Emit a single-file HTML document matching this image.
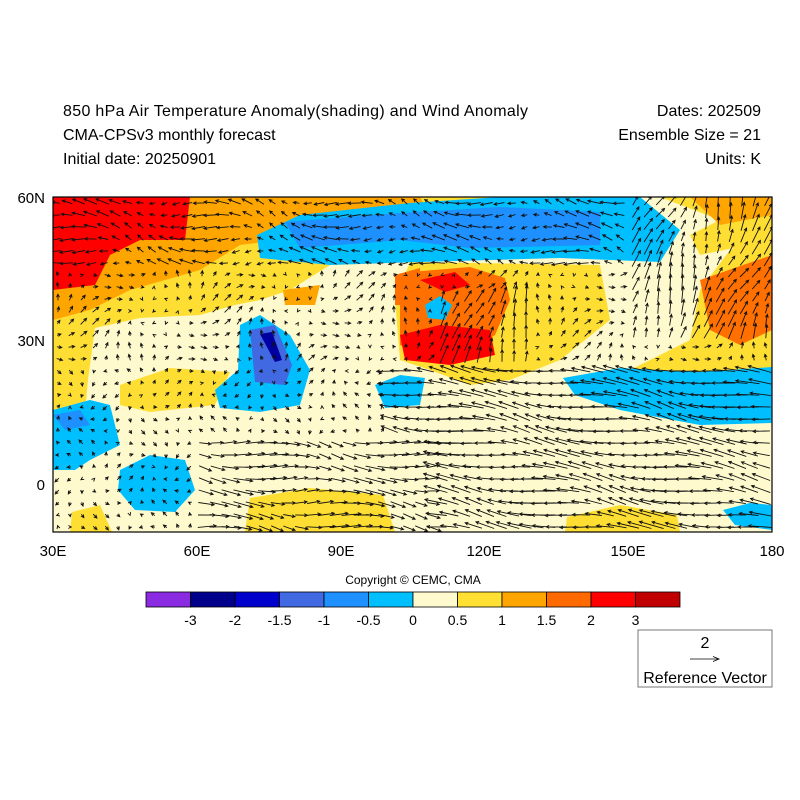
<!DOCTYPE html>
<html><head><meta charset="utf-8"><style>
body{margin:0;background:#fff;}
svg{display:block;font-family:"Liberation Sans",Arial,sans-serif;}
</style></head><body>
<svg id="s" width="800" height="800" viewBox="0 0 800 800" xmlns="http://www.w3.org/2000/svg">
<rect width="800" height="800" fill="#fff"/>
<text x="63" y="116" font-size="16" textLength="465">850 hPa Air Temperature Anomaly(shading) and Wind Anomaly</text>
<text x="63" y="140" font-size="16">CMA-CPSv3 monthly forecast</text>
<text x="63" y="164" font-size="16">Initial date: 20250901</text>
<text x="761" y="116" font-size="16" text-anchor="end">Dates: 202509</text>
<text x="761" y="140" font-size="16" text-anchor="end">Ensemble Size = 21</text>
<text x="761" y="164" font-size="16" text-anchor="end">Units: K</text>
<defs><clipPath id="c"><rect x="53" y="197" width="719" height="335"/></clipPath></defs>
<g clip-path="url(#c)">
<rect x="53" y="197" width="719" height="335" fill="#FFFACD"/>
<!-- yellow regions -->
<path d="M53 197 L560 197 L520 240 L420 262 L330 265 L290 290 L260 300 L235 305 L200 315 L140 318 L95 328 L88 380 L82 445 L53 450 Z" fill="#FFDE33"/>
<path d="M410 262 L600 265 L610 320 L560 360 L510 380 L470 385 L430 370 L400 360 L395 300 Z" fill="#FFDE33"/>
<path d="M120 385 L170 368 L230 372 L215 405 L150 412 L120 405 Z" fill="#FFDE33"/>
<path d="M250 498 L310 488 L383 495 L395 532 L245 532 Z" fill="#FFDE33"/>
<path d="M567 517 L620 505 L677 515 L680 532 L565 532 Z" fill="#FFDE33"/>
<path d="M72 512 L100 505 L112 532 L70 532 Z" fill="#FFDE33"/>
<path d="M630 370 L690 340 L700 290 L730 250 L772 230 L772 380 L700 375 Z" fill="#FFDE33"/>
<path d="M660 197 L772 197 L772 240 L700 255 L690 235 L720 220 Z" fill="#FFDE33"/>
<!-- orange -->
<path d="M53 197 L420 197 L430 215 L320 235 L240 245 L200 270 L130 290 L90 310 L53 320 Z" fill="#FFA500"/>
<path d="M283 290 L320 285 L315 305 L285 305 Z" fill="#FFA500"/>
<path d="M410 272 L470 267 L505 278 L510 300 L495 335 L470 350 L420 355 L400 345 L400 300 Z" fill="#FF7000"/>
<path d="M395 275 L420 268 L420 305 L395 305 Z" fill="#FF7000"/>
<path d="M700 280 L772 255 L772 330 L740 345 L710 330 Z" fill="#FF7000"/>
<path d="M690 197 L772 197 L772 215 L720 225 Z" fill="#FFA500"/>
<!-- red -->
<path d="M53 197 L190 197 L185 240 L140 240 L110 255 L95 285 L53 290 Z" fill="#FF0000"/>
<path d="M400 335 L440 325 L490 330 L495 355 L450 365 L405 360 Z" fill="#FF0000"/>
<path d="M420 280 L455 272 L470 285 L445 292 Z" fill="#FF0000"/>
<!-- blues -->
<path d="M257 235 L300 215 L410 203 L500 197 L640 197 L680 230 L660 262 L560 258 L420 262 L330 265 L260 258 Z" fill="#00BFFF"/>
<path d="M285 222 L400 213 L500 207 L600 212 L600 245 L470 248 L400 240 L300 248 Z" fill="#1E90FF"/>
<path d="M425 305 L440 296 L452 305 L445 320 L428 318 Z" fill="#00BFFF"/>
<path d="M240 325 L260 315 L290 335 L310 370 L300 405 L260 412 L220 408 L215 390 L238 370 Z" fill="#00BFFF"/>
<path d="M250 330 L275 325 L292 365 L285 385 L255 382 Z" fill="#4169E1"/>
<path d="M260 334 L272 332 L282 360 L275 362 Z" fill="#0000A0"/>
<path d="M53 410 L90 400 L110 405 L120 445 L90 460 L75 470 L53 470 Z" fill="#00BFFF"/>
<path d="M53 415 L80 410 L90 425 L65 430 Z" fill="#1E90FF"/>
<path d="M120 470 L150 455 L185 460 L195 490 L175 512 L135 510 L118 490 Z" fill="#00BFFF"/>
<path d="M375 385 L400 375 L425 378 L420 405 L385 408 Z" fill="#00BFFF"/>
<path d="M563 378 L620 368 L700 372 L772 367 L772 423 L700 425 L620 410 L575 395 Z" fill="#00BFFF"/>
<path d="M723 510 L750 503 L772 505 L772 530 L735 525 Z" fill="#00BFFF"/>
<g id="arr" stroke="#111" stroke-width="0.9" fill="none"></g>
</g>
<rect x="53" y="197" width="719" height="335" fill="none" stroke="#000" stroke-width="1.2"/>
<g font-size="15">
<text x="45" y="203" text-anchor="end">60N</text>
<text x="45" y="346" text-anchor="end">30N</text>
<text x="45" y="490" text-anchor="end">0</text>
<text x="53" y="556" text-anchor="middle">30E</text>
<text x="197" y="556" text-anchor="middle">60E</text>
<text x="341" y="556" text-anchor="middle">90E</text>
<text x="484" y="556" text-anchor="middle">120E</text>
<text x="628" y="556" text-anchor="middle">150E</text>
<text x="772" y="556" text-anchor="middle">180</text>
</g>
<text x="413" y="584" font-size="12" text-anchor="middle">Copyright © CEMC, CMA</text>
<g stroke="#000" stroke-width="0.8">
<rect x="146" y="592" width="44.5" height="15" fill="#8A2BE2"/>
<rect x="190.5" y="592" width="44.5" height="15" fill="#00008B"/>
<rect x="235" y="592" width="44.5" height="15" fill="#0000CD"/>
<rect x="279.5" y="592" width="44.5" height="15" fill="#4169E1"/>
<rect x="324" y="592" width="44.5" height="15" fill="#1E90FF"/>
<rect x="368.5" y="592" width="44.5" height="15" fill="#00BFFF"/>
<rect x="413" y="592" width="44.5" height="15" fill="#FFFACD"/>
<rect x="457.5" y="592" width="44.5" height="15" fill="#FFE033"/>
<rect x="502" y="592" width="44.5" height="15" fill="#FFA500"/>
<rect x="546.5" y="592" width="44.5" height="15" fill="#FF6A00"/>
<rect x="591" y="592" width="44.5" height="15" fill="#FF0000"/>
<rect x="635.5" y="592" width="44.5" height="15" fill="#C00000"/>
</g>
<g font-size="14" text-anchor="middle">
<text x="190.5" y="625">-3</text><text x="235" y="625">-2</text><text x="279.5" y="625">-1.5</text>
<text x="324" y="625">-1</text><text x="368.5" y="625">-0.5</text><text x="413" y="625">0</text>
<text x="457.5" y="625">0.5</text><text x="502" y="625">1</text><text x="546.5" y="625">1.5</text>
<text x="591" y="625">2</text><text x="635.5" y="625">3</text>
</g>
<rect x="638" y="630" width="134" height="57" fill="#fff" stroke="#777"/>
<text x="705" y="648" font-size="16" text-anchor="middle">2</text>
<line x1="690" y1="659" x2="718" y2="659" stroke="#000" stroke-width="0.8"/>
<path d="M713 656.5 L719 659 L713 661.5" fill="none" stroke="#000" stroke-width="0.8"/>
<text x="705" y="683" font-size="16" text-anchor="middle">Reference Vector</text>
</svg>
<script>
(function(){
var g=document.getElementById('arr'),h='';
for(var y=203;y<532;y+=12){for(var x=58;x<772;x+=12){
 var lon=30+(x-53)/4.793, lat=60-(y-197)/4.79;
 var u=0,v=0;
 if(lat>45){u=-1.2;v=0.2;} else if(lat>25){u=0.3;v=0.3;}
 if(lat<25&&lat>-10&&lon>100){u=-2.6;v=0.4;}
 if(lat<10&&lat>-10&&lon>60&&lon<110){u=2.0;v=-0.2;}
 if(lat>25&&lat<40&&lon>110&&lon<130){u=0.5;v=1.8;}
 if(lat>30&&lon>150){u=0.6;v=1.6;}
 u+=Math.sin(x*0.05+y*0.03)*0.5; v+=Math.cos(x*0.04-y*0.05)*0.5;
 var s=6, dx=u*s, dy=-v*s, L=Math.sqrt(dx*dx+dy*dy)||1;
 var x2=x+dx,y2=y+dy, ux=dx/L,uy=dy/L, a=3;
 h+='<path d="M'+(x-dx*0.3).toFixed(1)+' '+(y-dy*0.3).toFixed(1)+'L'+x2.toFixed(1)+' '+y2.toFixed(1)+'M'+(x2-a*ux-a*0.5*uy).toFixed(1)+' '+(y2-a*uy+a*0.5*ux).toFixed(1)+'L'+x2.toFixed(1)+' '+y2.toFixed(1)+'L'+(x2-a*ux+a*0.5*uy).toFixed(1)+' '+(y2-a*uy-a*0.5*ux).toFixed(1)+'"/>';
}}
g.innerHTML=h;
})();
</script>
</body></html>
